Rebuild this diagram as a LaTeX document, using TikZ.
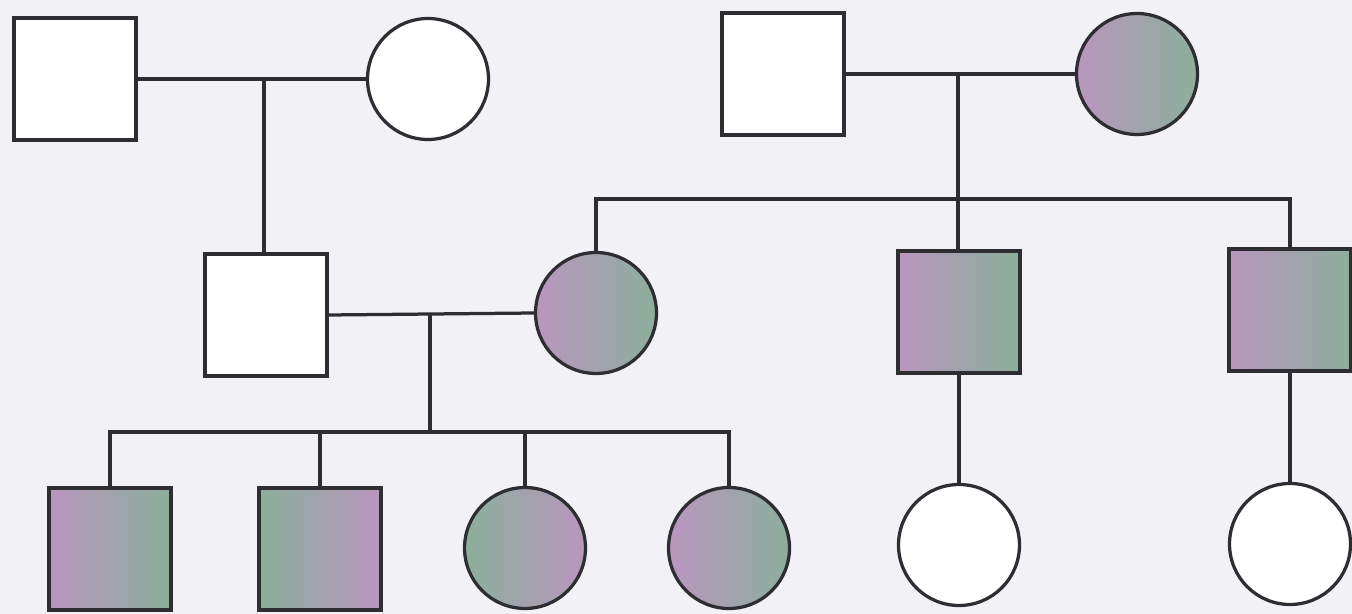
\documentclass[tikz,border=0pt]{standalone}
\definecolor{bg}{RGB}{242,241,246}
\definecolor{ink}{RGB}{45,45,50}
\definecolor{affA}{RGB}{185,150,190}
\definecolor{affB}{RGB}{160,155,205}
\definecolor{affC}{RGB}{140,175,155}
\begin{document}
\begin{tikzpicture}[x=0.02cm,y=-0.02cm,
  line width=0.065cm, draw=ink,
  male/.style={draw=ink,fill=white,rectangle,minimum size=2.44cm,inner sep=0pt},
  female/.style={draw=ink,fill=white,circle,minimum size=2.42cm,inner sep=0pt},
  aff/.style={fill=none,left color=affA,middle color=affB,right color=affC},
  affr/.style={fill=none,left color=affC,middle color=affB,right color=affA},
  rel/.style={draw=ink,line width=0.065cm}]
\fill[bg] (0,0) rectangle (1352,614);
\useasboundingbox (0,0) rectangle (1352,614);
% Generation I
\node[male] (I1) at (75,79) {};
\node[female] (I2) at (428,79) {};
\node[male] (I3) at (783,74) {};
\node[female,aff] (I4) at (1137,74) {};
% Generation II
\node[male] (II1) at (266,315) {};
\node[female,aff] (II2) at (596,313) {};
\node[male,aff] (II3) at (959,312) {};
\node[male,aff] (II4) at (1290,310) {};
% Generation III
\node[male,aff] (III1) at (110,549) {};
\node[male,affr] (III2) at (320,549) {};
\node[female,affr] (III3) at (525,548) {};
\node[female,aff] (III4) at (729,548) {};
\node[female] (III5) at (959,545) {};
\node[female] (III6) at (1290,544) {};
% couples
\draw[rel] (I1.east) -- (I2.west);
\draw[rel] (I3.east) -- (I4.west);
\draw[rel] (II1.east) -- (II2.west);
\coordinate (m1) at (264,79);
\coordinate (m2) at (958,75);
\coordinate (s2) at (958,199);
\coordinate (m3) at (430,315);
\coordinate (s3) at (430,432);
% descent I1-I2
\draw[rel] (m1) -- (m1 |- II1.north);
% descent I3-I4
\draw[rel] (m2) -- (s2);
\draw[rel] (II2.north) |- (s2) -| (II4.north);
\draw[rel] (s2) -- (s2 |- II3.north);
% descent II1-II2
\draw[rel] (m3) -- (s3);
\draw[rel] (III1.north) |- (s3) -| (III4.north);
\draw[rel] (III2.north) -- (III2.north |- s3);
\draw[rel] (III3.north) -- (III3.north |- s3);
% children of II3, II4
\draw[rel] (II3.south) -- (III5.north);
\draw[rel] (II4.south) -- (III6.north);
\end{tikzpicture}
\end{document}
